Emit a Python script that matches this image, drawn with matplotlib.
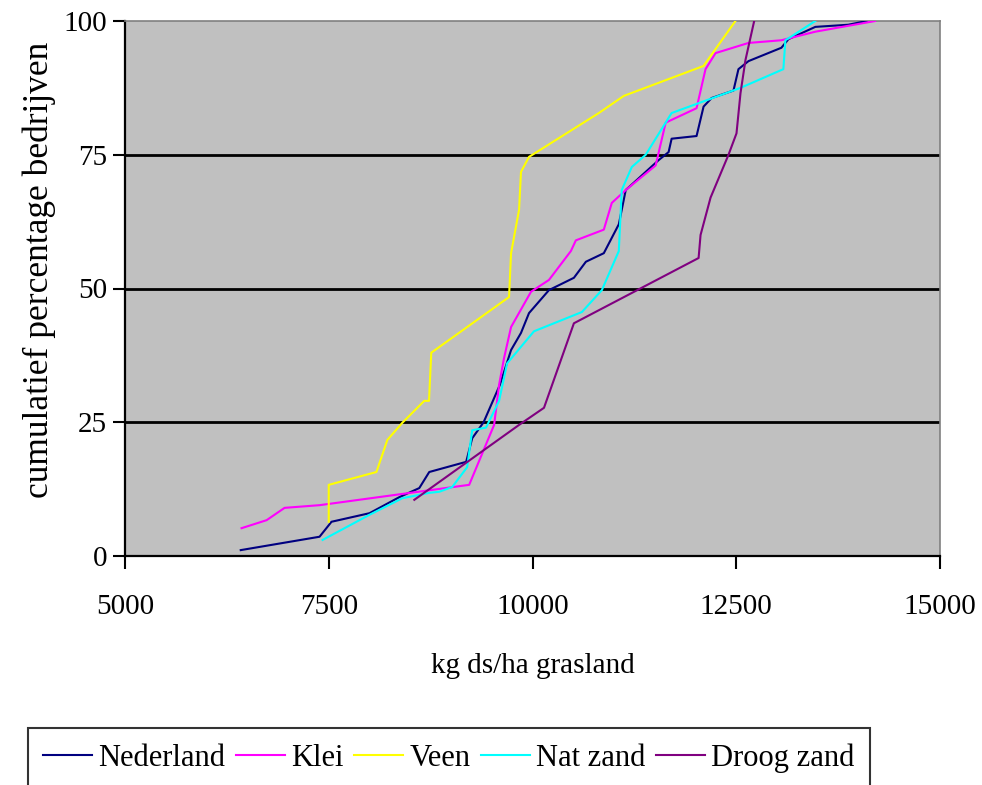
import matplotlib
matplotlib.use("Agg")
import matplotlib.pyplot as plt

# ---- data ----
ned_x = [6420, 7387, 7534, 8000, 8366, 8611, 8733, 9186, 9260, 9400, 9600, 9737, 9859, 9957,
         10202, 10508, 10655, 10875, 11059, 11144, 11548, 11670, 11707, 12013, 12099, 12197,
         12466, 12527, 12650, 13054, 13140, 13470, 13874, 14100]
ned_y = [1.1, 3.6, 6.4, 8, 11, 12.7, 15.7, 17.6, 22, 25, 32, 38.5, 41.7, 45.4,
         49.7, 52, 55, 56.6, 62, 68.4, 74, 75.5, 78, 78.5, 84, 85.6,
         87, 91, 92.5, 95, 96.6, 98.9, 99.3, 100]

klei_x = [6430, 6738, 6958, 7387, 9223, 9529, 9590, 9651, 9737, 9982, 10202, 10471, 10532,
          10875, 10973, 11144, 11511, 11634, 12013, 12123, 12246, 12650, 13054, 13470, 14204]
klei_y = [5.2, 6.7, 9, 9.5, 13.3, 24.5, 32, 37, 42.8, 49.4, 51.6, 57, 59,
          61, 66, 68.4, 73, 81, 83.7, 91, 94, 95.9, 96.4, 98, 100]

veen_x = [7500, 7500, 8085, 8219, 8403, 8672, 8730, 8758, 9712, 9737, 9835, 9859, 9957,
          10814, 11120, 12099, 12490]
veen_y = [6.4, 13.3, 15.7, 21.7, 24.9, 29, 29, 38, 48.4, 56.6, 64.7, 71.8, 74.6,
          82.8, 86, 91.6, 100]

nat_x = [7424, 8000, 8403, 8733, 8855, 9015, 9198, 9260, 9430, 9590, 9688, 10018, 10606,
         10851, 11059, 11095, 11218, 11389, 11707, 12552, 13078, 13103, 13470]
nat_y = [3, 7.7, 10.8, 11.8, 12, 12.9, 16.6, 23.5, 24, 29, 36, 42, 45.6,
         49.7, 57, 68.4, 72.7, 75, 82.8, 87.5, 91, 96.4, 100]

droog_x = [8550, 9835, 10141, 10508, 12038, 12062, 12185, 12405, 12503, 12552, 12613, 12720]
droog_y = [10.5, 24.5, 27.7, 43.5, 55.7, 60, 67, 75, 79, 86.5, 92.7, 100]

series = [
    ("Nederland", ned_x, ned_y, "#000080"),
    ("Klei", klei_x, klei_y, "#FF00FF"),
    ("Veen", veen_x, veen_y, "#FFFF00"),
    ("Nat zand", nat_x, nat_y, "#00FFFF"),
    ("Droog zand", droog_x, droog_y, "#800080"),
]

x_ticks = [5000, 7500, 10000, 12500, 15000]
y_ticks = [0, 25, 50, 75, 100]
grid_levels = [25, 50, 75]

plt.rcParams['font.family'] = ['Liberation Serif', 'DejaVu Serif']

fig = plt.figure(figsize=(9.82, 7.85), dpi=100)
ax = fig.add_axes([125/982, 1-556/785, (940-125)/982, (556-21)/785])
ax.set_facecolor("#C0C0C0")

for lvl in grid_levels:
    ax.axhline(lvl, color="black", lw=2.0, zorder=1)

for name, xs, ys, c in series:
    ax.plot(xs, ys, color=c, lw=1.5, label=name, zorder=3)

ax.set_xlim(5000, 15000)
ax.set_ylim(0, 100)
ax.set_xticks(x_ticks)
ax.set_yticks(y_ticks)
ax.tick_params(axis='both', direction='out', length=9, width=1.5, labelsize=21, colors='black')
ax.tick_params(axis='x', pad=18)
ax.tick_params(axis='y', pad=4)

for s in ['left', 'bottom']:
    ax.spines[s].set_color('black')
    ax.spines[s].set_linewidth(1.6)
for s in ['top', 'right']:
    ax.spines[s].set_color('#808080')
    ax.spines[s].set_linewidth(1.2)

ax.set_xlabel("kg ds/ha grasland", fontsize=21, labelpad=24)
ax.set_ylabel("cumulatief percentage bedrijven", fontsize=25.5)
ax.yaxis.set_label_coords(-0.085, 0.535)

handles, labels = ax.get_legend_handles_labels()
leg = fig.legend(handles, labels, loc='center', bbox_to_anchor=(449/982, 1-758/785),
                 ncol=5, fontsize=22, frameon=True, fancybox=False, handlelength=1.6,
                 handletextpad=0.2, columnspacing=0.35, borderpad=0.5, borderaxespad=0)
leg.get_frame().set_edgecolor('black')
leg.get_frame().set_linewidth(1.5)

fig.savefig("out.png", dpi=100)
